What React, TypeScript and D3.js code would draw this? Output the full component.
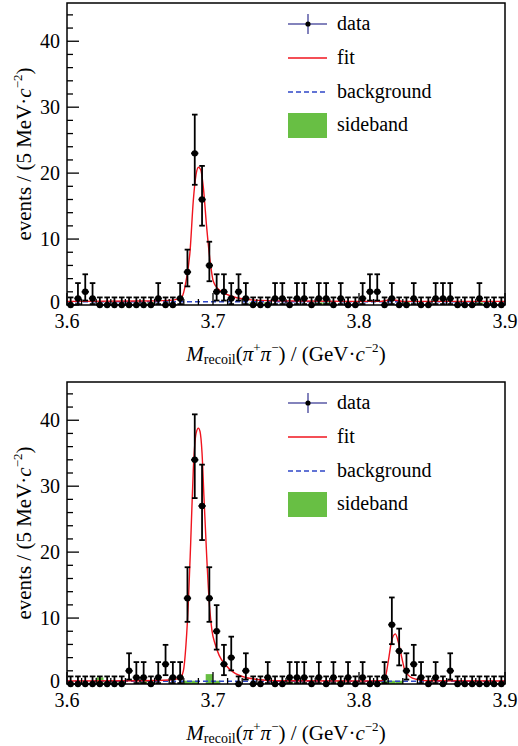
import React from "react";
import * as d3 from "d3";

// ---------- data ----------
const binLow = 3.6;
const binWidth = 0.005;

const topCounts = [
  0, 1, 2, 1, 0, 0, 0, 0, 0, 0, 0, 0, 1, 0, 0, 1, 5, 23, 16, 6,
  2, 2, 1, 2, 1, 0, 0, 0, 1, 1, 0, 1, 1, 0, 1, 1, 0, 1, 0, 0,
  1, 2, 2, 0, 1, 0, 0, 1, 0, 0, 1, 1, 1, 0, 0, 0, 1, 0, 0, 0,
];
const bottomCounts = [
  0, 0, 0, 0, 0, 0, 0, 0, 2, 1, 1, 0, 1, 3, 1, 1, 13, 34, 27, 13,
  8, 3, 4, 0, 2, 0, 0, 1, 0, 0, 1, 1, 1, 0, 1, 0, 1, 0, 1, 0,
  1, 0, 0, 1, 9, 5, 2, 3, 1, 0, 1, 0, 2, 0, 0, 0, 0, 0, 0, 0,
];
// sideband histogram: [bin index, weight]
const topSideband: [number, number][] = [
  [11, 0.4], [25, 0.4], [27, 0.4], [34, 0.4], [35, 0.4], [46, 0.4], [56, 0.4],
];
const bottomSideband: [number, number][] = [
  [4, 1.0], [7, 0.5], [10, 0.5], [16, 0.5], [17, 0.5], [19, 1.5], [20, 0.5],
  [30, 0.5], [37, 0.5], [43, 0.5], [44, 0.5], [45, 0.5],
];

// fit curves
const topFitX = [3.6, 3.65, 3.67, 3.675, 3.6786, 3.6815, 3.6843, 3.6865, 3.6884, 3.69, 3.6916, 3.6934, 3.6957, 3.698, 3.7002, 3.7037, 3.7094, 3.7162, 3.7231, 3.7322, 3.76, 3.815, 3.8225, 3.83, 3.9];
const topFitY = [0.55, 0.6, 0.7, 0.85, 1.2, 3.6, 8.2, 15.8, 19.8, 20.9, 20.5, 17.8, 11.7, 6.7, 3.6, 2.4, 1.6, 1.1, 0.85, 0.7, 0.6, 0.55, 0.8, 0.55, 0.55];
const bottomFitX = [3.6, 3.65, 3.67, 3.6774, 3.6797, 3.6815, 3.6831, 3.6847, 3.6865, 3.6884, 3.69, 3.6911, 3.6925, 3.6938, 3.6957, 3.6975, 3.6993, 3.7014, 3.7043, 3.7082, 3.7139, 3.7231, 3.7322, 3.7436, 3.8, 3.815, 3.8178, 3.8201, 3.8224, 3.8249, 3.827, 3.8293, 3.8315, 3.835, 3.8395, 3.8464, 3.9];
const bottomFitY = [0.45, 0.5, 0.6, 0.9, 2.0, 6.0, 12.2, 21.3, 32.5, 38.0, 38.8, 38.3, 35.0, 28.4, 19.3, 12.2, 8.1, 6.1, 4.3, 3.0, 1.8, 0.95, 0.65, 0.5, 0.45, 0.5, 0.9, 3.5, 6.6, 7.6, 6.3, 4.0, 2.0, 1.1, 0.7, 0.5, 0.45];
const topBgX = [3.6, 3.9];
const topBgY = [0.5, 0.5];
const bottomBgX = [3.6, 3.9];
const bottomBgY = [0.4, 0.4];

const xTicks = [3.6, 3.7, 3.8, 3.9];
const yTicks = [0, 10, 20, 30, 40];
const legendLabels = ["data", "fit", "background", "sideband"];

// ---------- style ----------
const W = 518;
const H = 746;
const LEFT = 67;
const RIGHT = 505;
const PH = 302;
const YMAX = 45.8;
const FONT = "'Liberation Serif', 'Times New Roman', serif";
const RED = "#f0141e";
const BLUE = "#2f47c8";
const GREEN = "#68bf44";
const LEG_DATA = "#5a5aa6";

function poissonErr(n: number): [number, number] {
  if (n === 0) return [0, 1.15];
  const lo = n - Math.sqrt(n - 0.25);
  const hi = n + Math.sqrt(n + 0.75) + 1;
  return [n - lo, hi - n];
}

const tStyle = { fontFamily: FONT };

function XTitle({ y }: { y: number }) {
  return (
    <text x={(LEFT + RIGHT) / 2} y={y} textAnchor="middle" style={tStyle} fontSize={21}>
      <tspan fontStyle="italic">M</tspan>
      <tspan fontSize={14} dy={3}>recoil</tspan>
      <tspan dy={-3}>(</tspan>
      <tspan fontStyle="italic">π</tspan>
      <tspan fontSize={13} dy={-9}>+</tspan>
      <tspan fontStyle="italic" dy={9}>π</tspan>
      <tspan fontSize={13} dy={-9}>−</tspan>
      <tspan dy={9}>) / (GeV·</tspan>
      <tspan fontStyle="italic">c</tspan>
      <tspan fontSize={13} dy={-9}>−2</tspan>
      <tspan dy={9}>)</tspan>
    </text>
  );
}

function YTitle({ cy }: { cy: number }) {
  return (
    <text transform={`translate(31,${cy}) rotate(-90)`} textAnchor="middle" style={tStyle} fontSize={21}>
      <tspan>events / (5 MeV·</tspan>
      <tspan fontStyle="italic">c</tspan>
      <tspan fontSize={13} dy={-9}>−2</tspan>
      <tspan dy={9}>)</tspan>
    </text>
  );
}

function Panel({ top, counts, sideband, fitX, fitY, bgX, bgY }: {
  top: number; counts: number[]; sideband: [number, number][];
  fitX: number[]; fitY: number[]; bgX: number[]; bgY: number[];
}) {
  const bottom = top + PH;
  const x = d3.scaleLinear().domain([3.6, 3.9]).range([LEFT, RIGHT]);
  const y = d3.scaleLinear().domain([0, YMAX]).range([bottom, top]);
  const line = d3.line<[number, number]>().x((d) => x(d[0])).y((d) => y(d[1])).curve(d3.curveMonotoneX);
  const fitPath = line(fitX.map((v, i) => [v, fitY[i]]) as [number, number][]) || "";
  const bgPath = d3.line<[number, number]>().x((d) => x(d[0])).y((d) => y(d[1]))(bgX.map((v, i) => [v, bgY[i]]) as [number, number][]) || "";
  const xMinor = d3.range(0, 31).map((i) => 3.6 + i * 0.01);
  const yMinor = d3.range(0, 23).map((i) => i * 2);
  const bw = x(binLow + binWidth) - x(binLow);
  const leg = (k: number) => top + [21, 55, 89, 122][k];

  return (
    <g>
      {sideband.map(([b, w], i) => (
        <rect key={"sb" + i} x={x(binLow + b * binWidth)} y={y(w)} width={bw} height={y(0) - y(w)} fill={GREEN} />
      ))}
      <path d={bgPath} fill="none" stroke={BLUE} strokeWidth={1.5} strokeDasharray="5,3" />
      <path d={fitPath} fill="none" stroke={RED} strokeWidth={1.4} />
      {counts.map((n, i) => {
        const xc = x(binLow + (i + 0.5) * binWidth);
        const [el, eh] = poissonErr(n);
        const y0 = y(n - el);
        const y1 = y(n + eh);
        return (
          <g key={"d" + i} stroke="#000" strokeWidth={1.8}>
            <line x1={xc} x2={xc} y1={y0} y2={y1} />
            <line x1={xc - 2.8} x2={xc + 2.8} y1={y1} y2={y1} />
            {n > 0 && <line x1={xc - 2.8} x2={xc + 2.8} y1={y0} y2={y0} />}
            <line x1={xc - bw / 2} x2={xc + bw / 2} y1={y(n)} y2={y(n)} />
            <circle cx={xc} cy={y(n)} r={3.2} fill="#000" stroke="none" />
          </g>
        );
      })}
      {yTicks.map((t) => (
        <line key={"ym" + t} x1={LEFT} x2={LEFT + 12} y1={y(t)} y2={y(t)} stroke="#000" strokeWidth={1.3} />
      ))}
      {yMinor.filter((t) => t % 10 !== 0).map((t) => (
        <line key={"yn" + t} x1={LEFT} x2={LEFT + 6} y1={y(t)} y2={y(t)} stroke="#000" strokeWidth={1.3} />
      ))}
      {xMinor.map((t, i) => (
        <line key={"xn" + i} x1={x(t)} x2={x(t)} y1={bottom} y2={bottom - (i % 10 === 0 ? 12 : 6)} stroke="#000" strokeWidth={1.3} />
      ))}
      <rect x={LEFT} y={top} width={RIGHT - LEFT} height={PH} fill="none" stroke="#000" strokeWidth={1.5} />
      {yTicks.map((t) => (
        <text key={"yl" + t} x={60} y={y(t) - (t === 0 ? 3 : 0)} dy="0.35em" textAnchor="end" style={tStyle} fontSize={20}>{t}</text>
      ))}
      {xTicks.map((t) => (
        <text key={"xl" + t} x={x(t)} y={bottom + 23} textAnchor="middle" style={tStyle} fontSize={20}>{t.toFixed(1)}</text>
      ))}
      <XTitle y={bottom + 56} />
      <YTitle cy={(top + bottom) / 2} />
      <g>
        <line x1={288} x2={327} y1={leg(0)} y2={leg(0)} stroke={LEG_DATA} strokeWidth={1.5} />
        <line x1={308} x2={308} y1={leg(0) - 10} y2={leg(0) + 10} stroke={LEG_DATA} strokeWidth={1.5} />
        <circle cx={308} cy={leg(0)} r={2.6} fill="#000" />
        <line x1={288} x2={327} y1={leg(1)} y2={leg(1)} stroke={RED} strokeWidth={1.5} />
        <line x1={288} x2={327} y1={leg(2)} y2={leg(2)} stroke={BLUE} strokeWidth={1.5} strokeDasharray="5,3" />
        <rect x={288} y={leg(3) - 12} width={39} height={25} fill={GREEN} />
        {legendLabels.map((l, k) => (
          <text key={l} x={337} y={leg(k) + 6} style={tStyle} fontSize={20}>{l}</text>
        ))}
      </g>
    </g>
  );
}

export default function App() {
  return (
    <svg width={W} height={H} style={{ position: "absolute", left: 0, top: 0, background: "#fff", fontFamily: FONT }}>
      <rect width={W} height={H} fill="#fff" />
      <Panel top={3} counts={topCounts} sideband={topSideband} fitX={topFitX} fitY={topFitY} bgX={topBgX} bgY={topBgY} />
      <Panel top={382} counts={bottomCounts} sideband={bottomSideband} fitX={bottomFitX} fitY={bottomFitY} bgX={bottomBgX} bgY={bottomBgY} />
    </svg>
  );
}
